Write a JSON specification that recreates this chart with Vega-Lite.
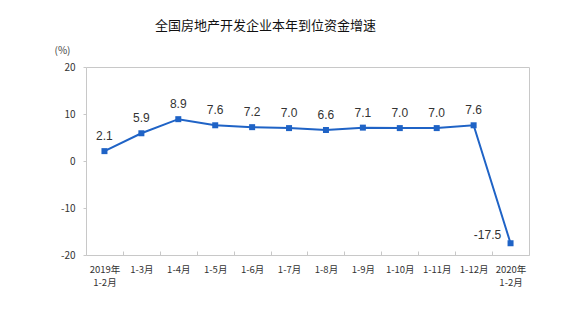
{
  "$schema": "https://vega.github.io/schema/vega-lite/v6.json",
  "width": 443,
  "height": 188,
  "autosize": "none",
  "padding": {"left": 86, "top": 67, "right": 59, "bottom": 61},
  "background": "white",
  "title": {
    "text": "全国房地产开发企业本年到位资金增速",
    "font": "Noto Sans CJK SC",
    "fontSize": 13,
    "fontWeight": "normal",
    "color": "#111111",
    "anchor": "middle",
    "frame": "group",
    "dx": -42,
    "offset": 12
  },
  "config": {
    "view": {"stroke": "#c8c8c8", "strokeWidth": 1},
    "axis": {"labelFont": "Noto Sans CJK SC", "titleFont": "Noto Sans CJK SC"}
  },
  "data": {
    "values": [
      {"period": "2019年 1-2月", "value": 2.1},
      {"period": "1-3月", "value": 5.9},
      {"period": "1-4月", "value": 8.9},
      {"period": "1-5月", "value": 7.6},
      {"period": "1-6月", "value": 7.2},
      {"period": "1-7月", "value": 7.0},
      {"period": "1-8月", "value": 6.6},
      {"period": "1-9月", "value": 7.1},
      {"period": "1-10月", "value": 7.0},
      {"period": "1-11月", "value": 7.0},
      {"period": "1-12月", "value": 7.6},
      {"period": "2020年 1-2月", "value": -17.5}
    ]
  },
  "encoding": {
    "x": {
      "field": "period",
      "type": "ordinal",
      "sort": null,
      "scale": {"paddingInner": 0, "paddingOuter": 0},
      "axis": {
        "title": null,
        "labelAngle": 0,
        "labelFontSize": 9.5,
        "labelColor": "#333333",
        "labelPadding": 13,
        "labelExpr": "split(datum.label, ' ')",
        "labelLineHeight": 13,
        "labelBaseline": "top",
        "domain": false,
        "ticks": true,
        "tickBand": "extent",
        "tickSize": -4,
        "tickColor": "#c8c8c8"
      }
    },
    "y": {
      "field": "value",
      "type": "quantitative",
      "scale": {"domain": [-20, 20], "nice": false},
      "axis": {
        "values": [-20, -10, 0, 10, 20],
        "labelExpr": "replace(datum.label, '−', '-')",
        "grid": false,
        "domain": false,
        "tickSize": 3,
        "tickColor": "#c8c8c8",
        "labelFontSize": 10,
        "labelColor": "#333333",
        "labelPadding": 8,
        "title": "(%)",
        "titleAngle": 0,
        "titleX": -24,
        "titleY": -12,
        "titleFontSize": 10,
        "titleFontWeight": "normal",
        "titleColor": "#444444",
        "titleAlign": "center"
      }
    }
  },
  "layer": [
    {
      "mark": {"type": "line", "color": "#1f63c6", "strokeWidth": 2}
    },
    {
      "mark": {"type": "square", "color": "#1f63c6", "size": 36, "opacity": 1, "filled": true}
    },
    {
      "transform": [{"filter": "datum.value > 0"}],
      "mark": {"type": "text", "dy": -15, "fontSize": 12, "color": "#333333", "font": "Liberation Sans",
        "text": {"expr": "format(datum.value, '.1f')"}}
    },
    {
      "transform": [{"filter": "datum.value < 0"}],
      "mark": {"type": "text", "dx": -23, "dy": -8, "fontSize": 12, "color": "#333333", "font": "Liberation Sans",
        "text": {"expr": "replace(format(datum.value, '.1f'), '−', '-')"}}
    }
  ]
}
